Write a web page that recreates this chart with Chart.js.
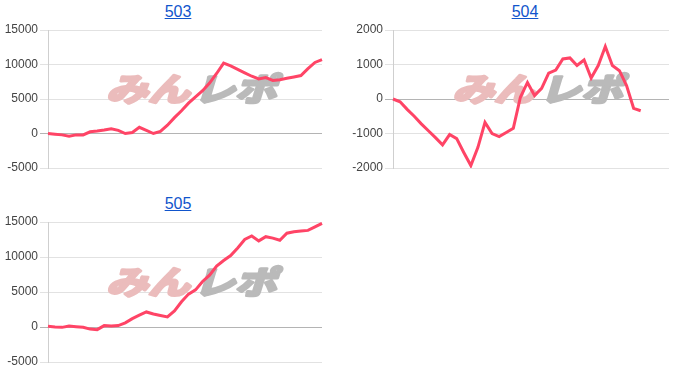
<!DOCTYPE html>
<html>
<head>
<meta charset="utf-8">
<script src="https://cdn.jsdelivr.net/npm/chart.js@4"></script>
<style>
  body { margin: 0; background: #fff; width: 700px; height: 386px; position: relative; overflow: hidden; font-family: Arial, "Liberation Sans", sans-serif; }
  .ttl { position: absolute; width: 350px; text-align: center; font-size: 16px; }
  .ttl a { color: #1155cc; text-decoration: underline; }
  canvas { position: absolute; }
</style>
</head>
<body>
<div class="ttl" style="left:3px; top:3px;"><a href="#">503</a></div>
<div class="ttl" style="left:350px; top:3px;"><a href="#">504</a></div>
<div class="ttl" style="left:3px; top:195px;"><a href="#">505</a></div>
<canvas id="c503" width="330" height="158" style="left:0; top:20px;"></canvas>
<canvas id="c504" width="332" height="158" style="left:345px; top:20px;"></canvas>
<canvas id="c505" width="330" height="160" style="left:0; top:212px;"></canvas>
<script>
// 40 slots on the x axis, no labels shown
const labels = Array(40).fill("");

const values503 = [0, -100, -200, -400, -200, -200, 250, 350, 500, 700,
  450, 0, 150, 900, 450, 0, 300, 1200, 2300, 3300,
  4400, 5300, 6200, 7300, 8700, 10200, 9800, 9300, 8800, 8300,
  7900, 8100, 7700, 7800, 8000, 8200, 8400, 9400, 10300, 10700];

const values504 = [0, -80, -300, -500, -720, -920, -1120, -1330, -1030, -1150,
  -1550, -1930, -1400, -680, -1000, -1090, -970, -850, 50, 480,
  100, 310, 750, 840, 1160, 1190, 970, 1130, 610, 970,
  1520, 970, 820, 390, -270, -340];

const values505 = [100, 0, -50, 150, 50, -50, -300, -380, 200, 150,
  200, 600, 1200, 1700, 2150, 1850, 1650, 1450, 2300, 3600,
  4700, 5300, 6500, 7400, 8700, 9500, 10200, 11300, 12500, 13000,
  12300, 12900, 12700, 12400, 13400, 13600, 13700, 13800, 14300, 14800];

const watermark = {
  id: "watermark",
  beforeDatasetsDraw(chart) {
    const a = chart.chartArea;
    const ctx = chart.ctx;
    ctx.save();
    ctx.translate(a.left + (a.right - a.left) * 0.53, a.top + (a.bottom - a.top) * 0.43);
    ctx.transform(1.3, 0, -0.3, 1, 0, 0);
    ctx.font = "bold 32px 'Noto Sans CJK JP'";
    ctx.textBaseline = "middle";
    ctx.lineJoin = "round";
    ctx.lineWidth = 3;
    ctx.textAlign = "right";
    ctx.fillStyle = ctx.strokeStyle = "#ebbcbc";
    ctx.strokeText("みん", 0, 0);
    ctx.fillText("みん", 0, 0);
    ctx.textAlign = "left";
    ctx.fillStyle = ctx.strokeStyle = "#bababa";
    ctx.strokeText("レポ", 3, 0);
    ctx.fillText("レポ", 3, 0);
    ctx.restore();
  }
};

function drawChart(id, values, min, max, step) {
  new Chart(document.getElementById(id).getContext("2d"), {
    type: "line",
    data: {
      labels: labels,
      datasets: [{
        data: values,
        borderColor: "#ff4466",
        borderWidth: 3,
        pointRadius: 0,
        tension: 0,
        fill: false
      }]
    },
    options: {
      responsive: false,
      animation: false,
      layout: { padding: { top: 10, bottom: 10, left: 0, right: 8 } },
      plugins: { legend: { display: false }, tooltip: { enabled: false } },
      scales: {
        x: { display: false },
        y: {
          min: min,
          max: max,
          afterFit: s => { s.width = 48; },
          ticks: {
            stepSize: step,
            color: "#444",
            font: { family: "Arial", size: 12 },
            padding: 2,
            callback: v => String(v)
          },
          grid: {
            color: c => (c.tick && c.tick.value === 0) ? "#b4b4b4" : "#e2e2e2",
            tickLength: 8
          },
          border: { color: "#cfcfcf" }
        }
      }
    },
    plugins: [watermark]
  });
}

drawChart("c503", values503, -5000, 15000, 5000);
drawChart("c504", values504, -2000, 2000, 1000);
drawChart("c505", values505, -5000, 15000, 5000);
</script>
</body>
</html>
